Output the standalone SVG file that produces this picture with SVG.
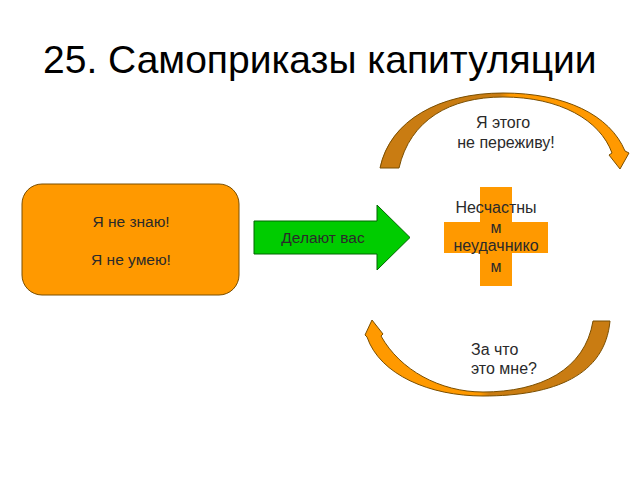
<svg xmlns="http://www.w3.org/2000/svg" width="640" height="480" viewBox="0 0 640 480">
<style>
text{font-family:"Liberation Sans",Arial,sans-serif;fill:#2a2a2a}
.t{font-size:16px;text-anchor:middle}
.s{font-size:15.5px}
.tl{font-size:16px}
.org{fill:#FF9900;stroke:#7A4E00;stroke-width:1}
</style>
<defs>
<linearGradient id="gTop" x1="0" y1="0" x2="1" y2="0">
<stop offset="0" stop-color="#C97C12"/><stop offset="0.48" stop-color="#C97C12"/><stop offset="0.52" stop-color="#FF9900"/><stop offset="1" stop-color="#FF9900"/>
</linearGradient>
<linearGradient id="gBot" x1="0" y1="0" x2="1" y2="0">
<stop offset="0" stop-color="#FF9900"/><stop offset="0.47" stop-color="#FF9900"/><stop offset="0.51" stop-color="#C97C12"/><stop offset="1" stop-color="#C97C12"/>
</linearGradient>
</defs>
<rect width="640" height="480" fill="#fff"/>
<text id="title" x="43" y="73" style="font-size:39px;fill:#000">25. Самоприказы капитуляции</text>

<g id="box">
<rect x="22" y="184" width="217" height="111" rx="20" class="org"/>
<text class="t s" x="131" y="227">Я не знаю!</text>
<text class="t s" x="131" y="265">Я не умею!</text>
</g>

<g id="connectors">
<g id="arrow">
<path d="M254,221 H377 V205 L410,237.5 L377,270 V254 H254 Z" fill="#00CC00" stroke="#006600" stroke-width="1"/>
<text class="t s" x="323" y="243">Делают вас</text>
</g>
<g id="topArc">
<path d="M380,168 C390,120 440,93 503,93 C565,93 610,115 625,151 L629,153 L620,169 L609,155 L612,153 C600,120 560,97 503,97 C450,97 410,120 399,168 Z" fill="url(#gTop)" stroke="#7A4E00" stroke-width="1"/>
</g>
<g id="bottomArc">
<path d="M372,320 L383,334 L381,336 C400,370 440,392 483,392 C540,392 585,370 593,321 L610,321 C605,375 555,396 483,396 C430,396 380,375 367,337 L365,335 Z" fill="url(#gBot)" stroke="#7A4E00" stroke-width="1"/>
</g>
</g>

<g id="cross">
<path d="M480,187 H512 V222 H548 V253 H512 V286 H480 V253 H444 V222 H480 Z" fill="#FF9900"/>
<text class="t" x="496" y="213">Несчастны</text>
<text class="t" x="496" y="233">м</text>
<text class="t" x="496" y="251">неудачнико</text>
<text class="t" x="496" y="272">м</text>
</g>

<g id="topText">
<text class="t" x="503" y="128">Я этого</text>
<text class="t" x="506" y="148">не переживу!</text>
</g>
<g id="bottomText">
<text class="tl" x="471" y="355">За что</text>
<text class="tl" x="471" y="374">это мне?</text>
</g>
</svg>
